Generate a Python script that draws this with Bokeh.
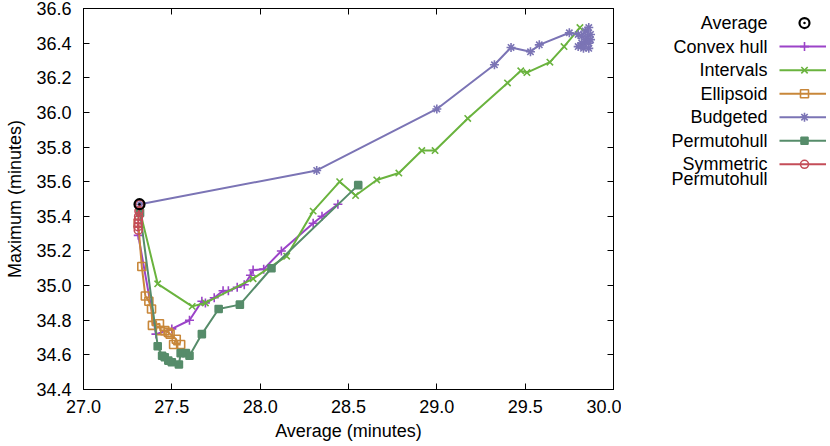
from bokeh.plotting import figure
from bokeh.layouts import row
from bokeh.models import Range1d, LinearAxis, FixedTicker, NumeralTickFormatter, ColumnDataSource
from bokeh.embed import file_html
from bokeh.resources import INLINE
from bokeh.core.properties import value

# ---------------- data ----------------
x_ticks = [27.0, 27.5, 28.0, 28.5, 29.0, 29.5, 30.0]
y_ticks = [34.4, 34.6, 34.8, 35.0, 35.2, 35.4, 35.6, 35.8, 36.0, 36.2, 36.4, 36.6]

avg_x = [27.317]
avg_y = [35.47]

hull_x = [27.31, 27.41, 27.50, 27.60, 27.67, 27.69, 27.74, 27.79, 27.82, 27.87, 27.91,
          27.945, 27.96, 28.02, 28.12, 28.30, 28.35, 28.44]
hull_y = [35.29, 34.72, 34.75, 34.80, 34.91, 34.90, 34.93, 34.97, 34.97, 34.99, 35.005,
          35.06, 35.09, 35.095, 35.20, 35.36, 35.40, 35.47]

intervals_x = [27.32, 27.42, 27.615, 27.69, 27.96, 28.15, 28.30, 28.45, 28.54, 28.66,
               28.785, 28.915, 28.99, 29.175, 29.40, 29.475, 29.51, 29.64, 29.72, 29.81]
intervals_y = [35.43, 35.01, 34.88, 34.90, 35.04, 35.17, 35.43, 35.60, 35.52, 35.61,
               35.65, 35.78, 35.78, 35.965, 36.17, 36.24, 36.23, 36.29, 36.38, 36.49]

ellipsoid_x = [27.31, 27.33, 27.35, 27.37, 27.385, 27.39, 27.43, 27.435, 27.46, 27.48,
               27.49, 27.525, 27.51, 27.55]
ellipsoid_y = [35.36, 35.11, 34.94, 34.91, 34.865, 34.77, 34.78, 34.74, 34.74, 34.73,
               34.72, 34.69, 34.66, 34.66]

budgeted_x = [27.32, 28.32, 29.00, 29.326, 29.42, 29.53, 29.58, 29.75,
              29.80, 29.82, 29.84, 29.86, 29.85, 29.87, 29.84, 29.87, 29.82, 29.86,
              29.80, 29.83, 29.86]
budgeted_y = [35.47, 35.665, 36.02, 36.275, 36.375, 36.35, 36.39, 36.46,
              36.45, 36.44, 36.47, 36.49, 36.43, 36.45, 36.42, 36.42, 36.40, 36.40,
              36.38, 36.37, 36.37]

permuto_x = [27.32, 27.42, 27.445, 27.46, 27.48, 27.50, 27.54, 27.55, 27.58, 27.60,
             27.67, 27.765, 27.885, 28.064, 28.555]
permuto_y = [35.42, 34.65, 34.595, 34.586, 34.567, 34.557, 34.544, 34.61, 34.61, 34.595,
             34.72, 34.865, 34.89, 35.10, 35.58]

sym_x = [27.318, 27.314, 27.312, 27.31, 27.31, 27.308, 27.31]
sym_y = [35.47, 35.43, 35.40, 35.38, 35.36, 35.34, 35.32]

FONT = "Liberation Sans"
FS = "18px"

series = [
    # label, x, y, color, marker, fill, size
    ("Convex hull", hull_x, hull_y, "#9b43c8", "cross", False, 9),
    ("Intervals", intervals_x, intervals_y, "#6ab33e", "x", False, 9),
    ("Ellipsoid", ellipsoid_x, ellipsoid_y, "#c8873a", "square", False, 8),
    ("Budgeted", budgeted_x, budgeted_y, "#7b74b5", "asterisk", False, 9),
    ("Permutohull", permuto_x, permuto_y, "#568c6a", "square", True, 7),
    ("Symmetric\nPermutohull", sym_x, sym_y, "#c44d58", "circle", False, 8),
]

# ---------------- main plot ----------------
p = figure(frame_width=530, frame_height=381, x_range=Range1d(27.0, 30.0),
           y_range=Range1d(34.4, 36.6),
           output_backend="svg", toolbar_location=None,
           min_border_left=83, min_border_right=8, min_border_top=8, min_border_bottom=56)
p.xgrid.visible = False
p.ygrid.visible = False
p.outline_line_color = "black"
p.outline_line_width = 1

for ax, ticks in ((p.xaxis[0], x_ticks), (p.yaxis[0], y_ticks)):
    ax.ticker = FixedTicker(ticks=ticks)
    ax.formatter = NumeralTickFormatter(format="0.0")
    ax.major_tick_in = 6
    ax.major_tick_out = 0
    ax.minor_tick_line_color = None
    ax.major_label_text_font = FONT
    ax.major_label_text_font_size = FS
    ax.major_label_text_color = "black"
    ax.axis_label_text_font = FONT
    ax.axis_label_text_font_size = FS
    ax.axis_label_text_font_style = "normal"
    ax.axis_label_text_color = "black"
    ax.axis_line_color = "black"
    ax.major_tick_line_color = "black"
p.xaxis.axis_label = "Average (minutes)"
p.yaxis.axis_label = "Maximum (minutes)"
p.xaxis.major_label_standoff = 10
p.yaxis.major_label_standoff = 12
p.xaxis.axis_label_standoff = 5
p.yaxis.axis_label_standoff = 8

for loc, ticks in (("above", x_ticks), ("right", y_ticks)):
    ax = LinearAxis(ticker=FixedTicker(ticks=ticks), major_tick_in=6, major_tick_out=0,
                    minor_tick_line_color=None, major_label_text_font_size="0px",
                    major_label_standoff=0,
                    axis_line_color="black", major_tick_line_color="black")
    p.add_layout(ax, loc)

for label, xs, ys, color, marker, filled, msize in series:
    src = ColumnDataSource(dict(x=xs, y=ys))
    p.line("x", "y", source=src, line_color=color, line_width=2)
    p.scatter("x", "y", source=src, marker=marker, size=msize, line_color=color, line_width=1.6,
              fill_color=color if filled else None)

p.scatter(avg_x, avg_y, marker="circle_dot", size=10, line_color="black", line_width=2.2,
          fill_color=None)

# ---------------- legend panel ----------------
LW, LH = 205, 445
leg = figure(width=LW, height=LH, x_range=Range1d(0, LW), y_range=Range1d(LH, 0),
             output_backend="svg", toolbar_location=None,
             min_border=0, x_axis_type=None, y_axis_type=None)
leg.xgrid.visible = False
leg.ygrid.visible = False
leg.outline_line_color = None

row0, step = 17, 27.5
text_right, line_x0, line_x1, mark_x = 146, 158, 205, 183

entries = [("Average", None, "circle_dot", False, "black", 10)] + \
          [(s[0], s[3], s[4], s[5], s[3], s[6]) for s in series]
for i, (label, lcolor, marker, filled, mcolor, msize) in enumerate(entries):
    yy = row0 + i * step
    for k, part in enumerate(label.split("\n")):
        leg.text([text_right], [yy + k * 17.5], text=[part], text_align="right",
                 text_baseline="middle", text_font=value(FONT), text_font_size=FS,
                 text_color="black")
    if lcolor is not None:
        leg.line([line_x0, line_x1], [yy, yy], line_color=lcolor, line_width=2)
        leg.scatter([mark_x], [yy], marker=marker, size=msize, line_color=mcolor, line_width=1.6,
                    fill_color=mcolor if filled else None)
    else:
        leg.scatter([mark_x], [yy], marker=marker, size=msize, line_color="black",
                    line_width=2.2, fill_color=None)

layout = row(p, leg)
open("out.html", "w").write(file_html(layout, INLINE))
